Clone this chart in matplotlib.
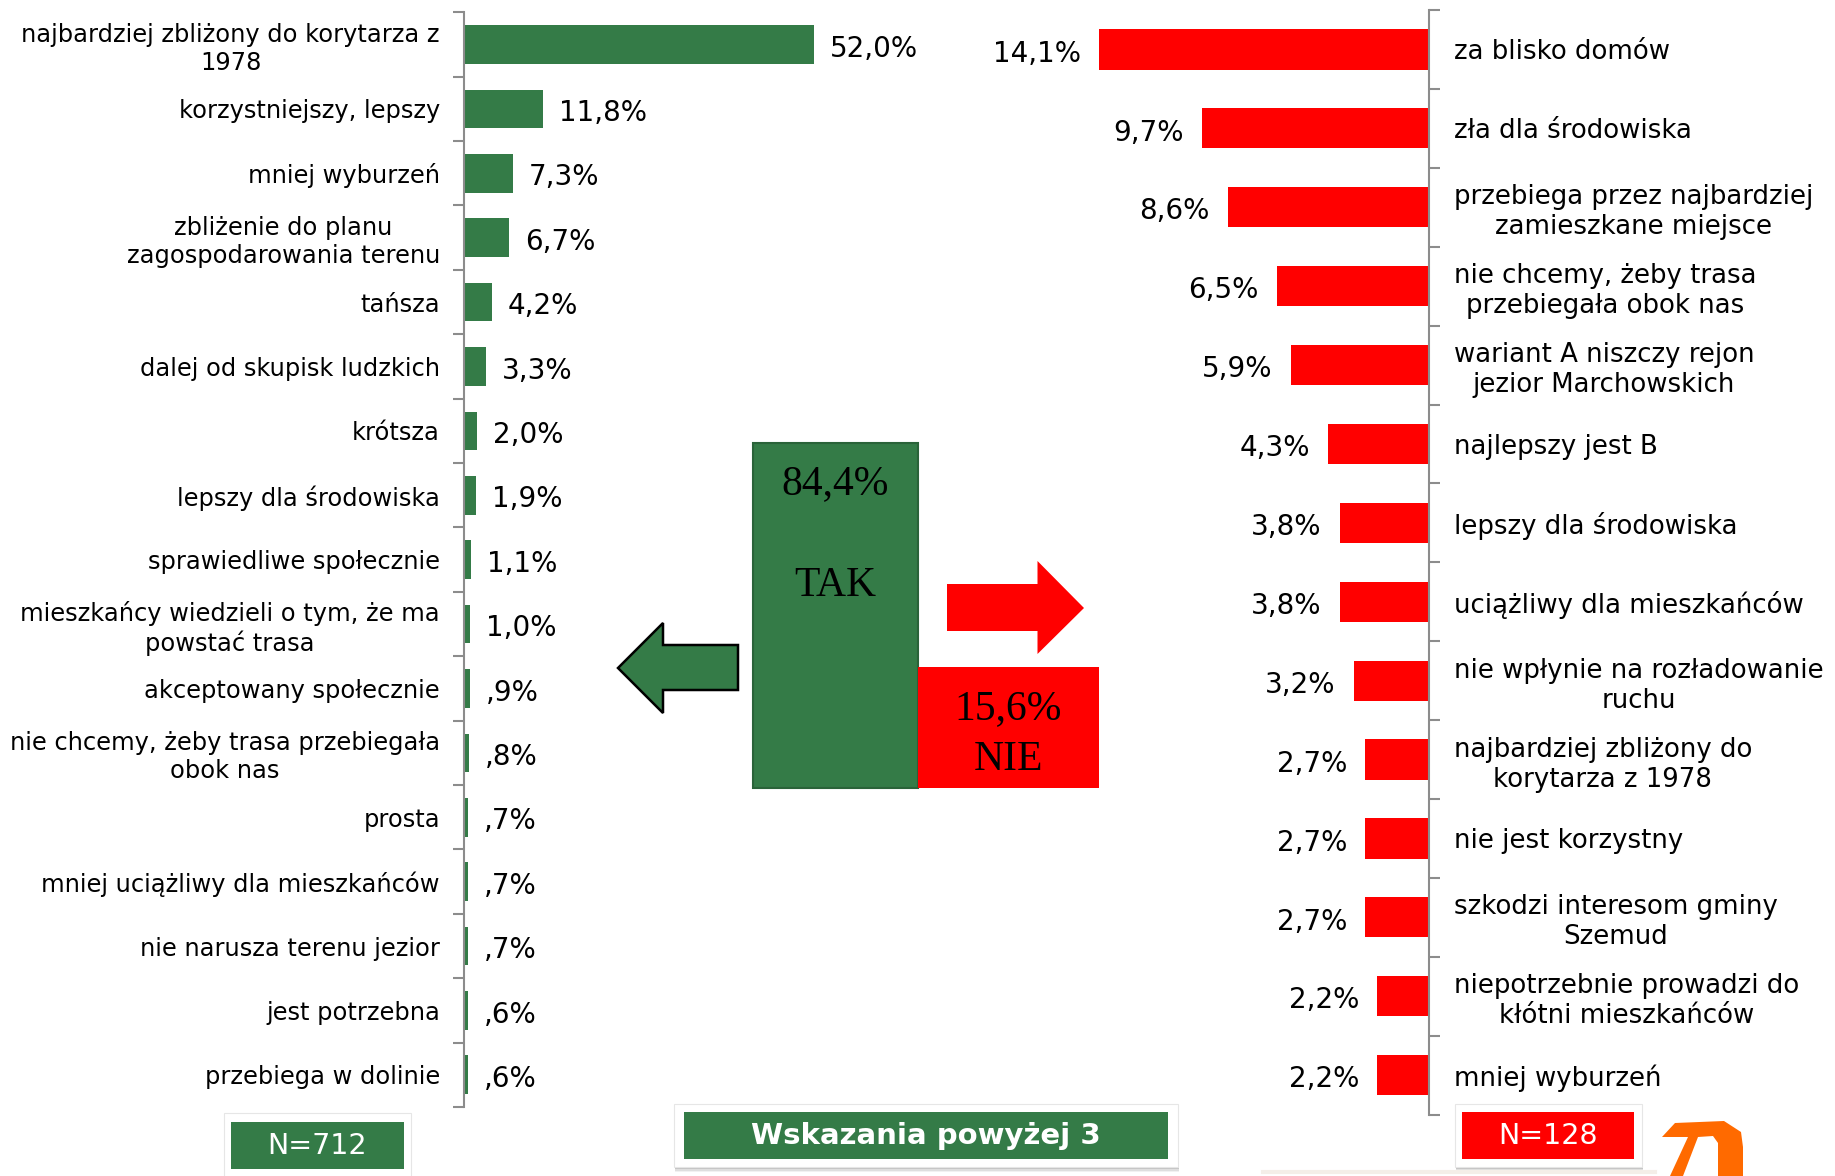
import numpy as np
import matplotlib.pyplot as plt
from matplotlib.patches import Rectangle, Polygon

W, H = 1835, 1176
GREEN = '#347b47'
RED = '#ff0000'
GRAY = '#8c8c8c'

tak_labels = [
    'najbardziej zbliżony do korytarza z\n1978',
    'korzystniejszy, lepszy',
    'mniej wyburzeń',
    'zbliżenie do planu\nzagospodarowania terenu',
    'tańsza',
    'dalej od skupisk ludzkich',
    'krótsza',
    'lepszy dla środowiska',
    'sprawiedliwe społecznie',
    'mieszkańcy wiedzieli o tym, że ma\npowstać trasa',
    'akceptowany społecznie',
    'nie chcemy, żeby trasa przebiegała\nobok nas',
    'prosta',
    'mniej uciążliwy dla mieszkańców',
    'nie narusza terenu jezior',
    'jest potrzebna',
    'przebiega w dolinie',
]
tak_values = [52.0, 11.8, 7.3, 6.7, 4.2, 3.3, 2.0, 1.9, 1.1, 1.0,
              0.9, 0.8, 0.7, 0.7, 0.7, 0.6, 0.6]

nie_labels = [
    'za blisko domów',
    'zła dla środowiska',
    'przebiega przez najbardziej\nzamieszkane miejsce',
    'nie chcemy, żeby trasa\nprzebiegała obok nas',
    'wariant A niszczy rejon\njezior Marchowskich',
    'najlepszy jest B',
    'lepszy dla środowiska',
    'uciążliwy dla mieszkańców',
    'nie wpłynie na rozładowanie\nruchu',
    'najbardziej zbliżony do\nkorytarza z 1978',
    'nie jest korzystny',
    'szkodzi interesom gminy\nSzemud',
    'niepotrzebnie prowadzi do\nkłótni mieszkańców',
    'mniej wyburzeń',
]
nie_values = [14.1, 9.7, 8.6, 6.5, 5.9, 4.3, 3.8, 3.8, 3.2, 2.7, 2.7, 2.7, 2.2, 2.2]

tak_total = 84.4
nie_total = 15.6
n_tak = 712
n_nie = 128
title = 'Wskazania powyżej 3'


def fmt(v):
    s = f'{v:.1f}'.replace('.', ',')
    if s.startswith('0'):
        s = s[1:]
    return s + '%'


fig = plt.figure(figsize=(W / 100, H / 100), dpi=100)


def px_axes(x0, y0, x1, y1):
    return fig.add_axes([x0 / W, 1 - y1 / H, (x1 - x0) / W, (y1 - y0) / H])


# background layer in pixel coordinates for the boxes and arrows
bg = fig.add_axes([0, 0, 1, 1])
bg.set_xlim(0, W)
bg.set_ylim(H, 0)
bg.axis('off')


def style_bar_axes(ax, n, side):
    for s in ax.spines.values():
        s.set_visible(False)
    ax.spines[side].set_visible(True)
    ax.spines[side].set_color(GRAY)
    ax.spines[side].set_linewidth(1.5)
    ax.set_xticks([])
    ax.set_ylim(n - 0.5, -0.5)
    ax.set_yticks(np.arange(-0.5, n, 1))
    ax.set_yticklabels([])
    ax.patch.set_alpha(0)


# left chart (TAK)
axL = px_axes(463.5, 12.3, 814, 1107)
nL = len(tak_values)
yL = np.arange(nL)
axL.barh(yL, tak_values, height=0.6, color=GREEN)
axL.set_xlim(0, max(tak_values))
style_bar_axes(axL, nL, 'left')
axL.set_yticks(yL, minor=True)
axL.set_yticklabels(tak_labels, minor=True, fontsize=17.4)
axL.tick_params(axis='y', which='major', length=8, width=1.5, color=GRAY)
axL.tick_params(axis='y', which='minor', length=0, pad=17)
for t in axL.get_yticklabels(minor=True):
    t.set_multialignment('center')
for yi, v in zip(yL, tak_values):
    axL.annotate(fmt(v), (v, yi), xytext=(11.5, -3), textcoords='offset points',
                 va='center', ha='left', fontsize=20, annotation_clip=False)

# right chart (NIE)
axR = px_axes(1099, 10, 1428.6, 1114.6)
nR = len(nie_values)
yR = np.arange(nR)
axR.barh(yR, nie_values, height=0.51, color=RED)
axR.set_xlim(max(nie_values), 0)
style_bar_axes(axR, nR, 'right')
axR.yaxis.tick_right()
axR.set_yticks(yR, minor=True)
axR.set_yticklabels(nie_labels, minor=True, fontsize=18.7)
axR.tick_params(axis='y', which='major', length=8, width=1.5, color=GRAY,
                left=False, right=True)
axR.tick_params(axis='y', which='minor', length=0, pad=18, left=False, right=True,
                labelleft=False, labelright=True)
for t in axR.get_yticklabels(minor=True):
    t.set_multialignment('center')
for yi, v in zip(yR, nie_values):
    axR.annotate(fmt(v), (v, yi), xytext=(-13, -3), textcoords='offset points',
                 va='center', ha='right', fontsize=20, annotation_clip=False)

# TAK / NIE summary blocks
serif = dict(family='Liberation Serif', fontsize=30, color='black', ha='center', va='center')
bg.add_patch(Rectangle((752.5, 442.7), 165.5, 345.3, fc=GREEN, ec='#2a6339', lw=1.5))
bg.add_patch(Rectangle((918, 667), 181, 121, fc=RED, ec='none'))
bg.text(835, 484, fmt(tak_total), **serif)
bg.text(835, 586, 'TAK', **serif)
bg.text(1008, 709, fmt(nie_total), **serif)
bg.text(1008, 760, 'NIE', **serif)

# arrows pointing at each chart
bg.add_patch(Polygon([(618, 668), (663, 623), (663, 645), (738, 645),
                      (738, 690), (663, 690), (663, 713)],
                     closed=True, fc=GREEN, ec='black', lw=1.8))
bg.add_patch(Polygon([(947, 584), (1037.5, 584), (1037.5, 561), (1084, 608),
                      (1037.5, 654), (1037.5, 631), (947, 631)],
                     closed=True, fc=RED, ec='none'))


def label_box(outer, inner, color, text, **kw):
    x0, y0, x1, y1 = outer
    for d, a in [(5, 0.08), (3.5, 0.12), (2, 0.18)]:
        bg.add_patch(Rectangle((x0 + 1, y0 + d), x1 - x0, y1 - y0,
                               fc='#555555', ec='none', alpha=a))
    bg.add_patch(Rectangle((x0, y0), x1 - x0, y1 - y0, fc='white', ec='#e6e6e6', lw=0.8))
    ix0, iy0, ix1, iy1 = inner
    bg.add_patch(Rectangle((ix0, iy0), ix1 - ix0, iy1 - iy0, fc=color, ec='none'))
    bg.text((ix0 + ix1) / 2, (iy0 + iy1) / 2 + 1, text, color='white',
            ha='center', va='center', **kw)


label_box((224, 1113, 411, 1185), (231, 1122, 404, 1169), GREEN,
          f'N={n_tak}', fontsize=20.5)
label_box((674, 1104, 1178, 1167), (684, 1112, 1168, 1159), GREEN,
          title, fontsize=21, fontweight='bold')
label_box((1455, 1104, 1642, 1167), (1462, 1112, 1634, 1159), RED,
          f'N={n_nie}', fontsize=20.5)

# corner logo fragment
bg.plot([1263, 1655], [1172, 1172], color='#f4eee8', lw=3)
bg.add_patch(Polygon([(1662, 1137), (1675, 1123), (1724, 1121), (1741, 1132),
                      (1743, 1147), (1743, 1176), (1718, 1176), (1718, 1143),
                      (1713, 1136), (1698, 1137), (1683, 1176), (1670, 1176),
                      (1688, 1137)], closed=True, fc='#ff6a00', ec='none'))

fig.savefig('out.png', dpi=100)
